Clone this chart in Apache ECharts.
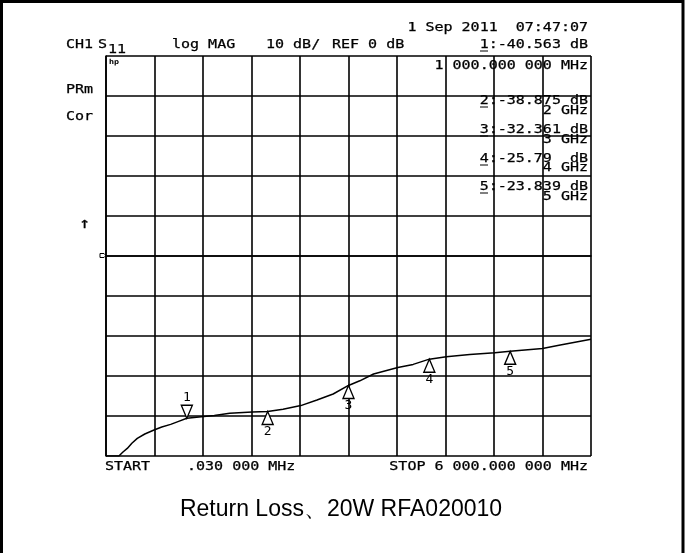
<!DOCTYPE html>
<html><head><meta charset="utf-8">
<script src="https://cdn.jsdelivr.net/npm/echarts@6/dist/echarts.min.js"></script>
<style>html,body{margin:0;padding:0;background:#fff}#c{width:688px;height:553px}</style>
</head><body><div id="c"></div>
<script>
// Trace: frequency (GHz) and S11 (dB)
const freqGHz = [0.00003, 0.16, 0.21, 0.263, 0.32, 0.387, 0.48, 0.594, 0.69, 0.80, 0.89, 1.0, 1.21, 1.34, 1.53, 1.81, 2.0, 2.19, 2.41, 2.61, 2.81, 3.0, 3.14, 3.31, 3.61, 3.80, 4.0, 4.21, 4.50, 4.81, 5.0, 5.40, 5.62, 6.0];
const s11dB = [-50, -50, -49.0, -48.1, -46.8, -45.6, -44.5, -43.5, -42.75, -42.1, -41.4, -40.56, -40.1, -39.9, -39.3, -39.0, -38.88, -38.3, -37.4, -36.0, -34.5, -32.36, -31.2, -29.5, -27.9, -27.1, -25.79, -25.2, -24.6, -24.2, -23.84, -23.1, -22.25, -20.8];
// Markers
const markerNames = ['1', '2', '3', '4', '5'];
const markerFreq = [1, 2, 3, 4, 5];
const markerDb = [-40.563, -38.875, -32.361, -25.79, -23.839];
// Axis settings
const xMin = 0, xMax = 6, xStep = 0.6;
const yMin = -50, yMax = 50, yStep = 10;
const title = 'Return Loss、20W RFA020010';

const FONT = '"DejaVu Sans Mono", monospace';
function t(str, x, y, align, size) {
  return {
    type: 'text', x: x, y: y, scaleX: 1.25, originX: 0, originY: 0, silent: true,
    style: { text: str, x: 0, y: 0, fill: '#000', stroke: '#000', lineWidth: 0.25, font: (size || 12) + 'px ' + FONT, textAlign: align || 'left', textVerticalAlign: 'middle' }
  };
}
function ul(x, y) {
  return { type: 'line', silent: true, shape: { x1: x, y1: y, x2: x + 8, y2: y }, style: { stroke: '#000', lineWidth: 1 } };
}

const chart = echarts.init(document.getElementById('c'), null, { renderer: 'canvas' });
const lineData = freqGHz.map((f, i) => [f, s11dB[i]]);
const m1 = [[markerFreq[0], markerDb[0], markerNames[0]]];
const mRest = markerFreq.slice(1).map((f, i) => [f, markerDb[i + 1], markerNames[i + 1]]);
const labelFont = { fontFamily: 'DejaVu Sans Mono', fontSize: 13, color: '#000' };
const GL = { color: '#000', width: 1.6 };

chart.setOption({
  animation: false,
  backgroundColor: '#fff',
  grid: { left: 106, top: 56, width: 485, height: 400, containLabel: false },
  xAxis: {
    type: 'value', min: xMin, max: xMax, interval: xStep,
    axisLine: { show: true, lineStyle: GL },
    axisTick: { show: false }, axisLabel: { show: false },
    splitLine: { show: true, lineStyle: GL }
  },
  yAxis: {
    type: 'value', min: yMin, max: yMax, interval: yStep,
    axisLine: { show: true, lineStyle: GL },
    axisTick: { show: false }, axisLabel: { show: false },
    splitLine: { show: true, lineStyle: GL }
  },
  series: [
    {
      type: 'line', data: lineData, showSymbol: false, smooth: false,
      lineStyle: { color: '#000', width: 1.5 }, z: 3
    },
    {
      type: 'scatter', data: m1, symbol: 'path://M0,0 L10,0 L5,12 Z', symbolSize: [11, 13],
      symbolOffset: [0, -6.5], itemStyle: { color: '#fff', borderColor: '#000', borderWidth: 1.4, opacity: 1 },
      label: Object.assign({ show: true, position: 'top', distance: 0, formatter: p => p.data[2] }, labelFont), z: 4
    },
    {
      type: 'scatter', data: mRest, symbol: 'path://M5,0 L10,12 L0,12 Z', symbolSize: [11, 13],
      symbolOffset: [0, 6.5], itemStyle: { color: '#fff', borderColor: '#000', borderWidth: 1.4, opacity: 1 },
      label: Object.assign({ show: true, position: 'bottom', distance: 0, formatter: p => p.data[2] }, labelFont), z: 4
    }
  ],
  graphic: [
    { type: 'polyline', silent: true, shape: { points: [[1.5, 553], [1.5, 1.5], [683, 1.5], [683, 553]] }, style: { stroke: '#000', lineWidth: 3, fill: null } },
    t('1 Sep 2011  07:47:07', 588, 28, 'right'),
    t('CH1', 66, 45),
    t('S', 98, 45),
    t('11', 108, 50),
    t('log MAG', 172, 45),
    t('10 dB/', 266, 45),
    t('REF 0 dB', 332, 45),
    t('1:-40.563 dB', 588, 45, 'right'),
    ul(480, 51),
    t('1 000.000 000 MHz', 588, 66, 'right'),
    t('2:-38.875 dB', 588, 101, 'right'),
    ul(480, 107),
    t('2 GHz', 588, 111, 'right'),
    t('3:-32.361 dB', 588, 130, 'right'),
    ul(480, 136),
    t('3 GHz', 588, 140, 'right'),
    t('4:-25.79  dB', 588, 159, 'right'),
    ul(480, 165),
    t('4 GHz', 588, 168, 'right'),
    t('5:-23.839 dB', 588, 187, 'right'),
    ul(480, 193),
    t('5 GHz', 588, 197, 'right'),
    t('PRm', 66, 90),
    t('Cor', 66, 117),
    t('↑', 79, 224, 'left', 15),
    t('START', 105, 467),
    t('.030 000 MHz', 187, 467),
    t('STOP 6 000.000 000 MHz', 588, 467, 'right'),
    { type: 'text', x: 109, y: 62, silent: true, style: { text: 'hp', font: 'bold 7px "DejaVu Sans"', fill: '#000', textVerticalAlign: 'middle' } },
    { type: 'polygon', silent: true, shape: { points: [[100, 253.5], [104, 253.5], [106, 255.5], [104, 257.5], [100, 257.5]] }, style: { fill: '#fff', stroke: '#000', lineWidth: 1 } },
    { type: 'text', x: 341, y: 510, silent: true, style: { text: title, font: '23px "Liberation Sans", Arial, sans-serif', fill: '#000', textAlign: 'center', textVerticalAlign: 'middle' } }
  ]
});
</script>
</body></html>
